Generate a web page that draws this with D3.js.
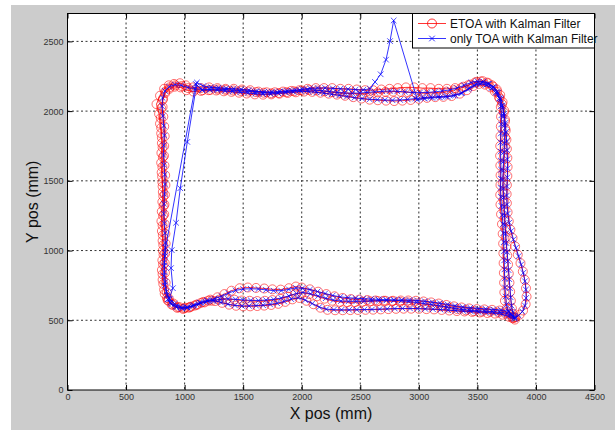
<!DOCTYPE html>
<html><head><meta charset="utf-8">
<script src="https://cdn.jsdelivr.net/npm/d3@7"></script>
<style>body{margin:0;background:#fff}svg{display:block}</style>
</head><body><svg id="c" width="615" height="432"></svg>
<script>
const xTicks=[0,500,1000,1500,2000,2500,3000,3500,4000,4500];
const yTicks=[0,500,1000,1500,2000,2500];
const seriesNames=["ETOA with Kalman Filter","only TOA with Kalman Filter"];
const xLabel="X pos (mm)", yLabel="Y pos (mm)";

const etoaLap1=[[850,660],[825,720],[812,790],[806,860],[810,930],[814,1000],[812,1070],[806,1140],[802,1210],[805,1280],[810,1350],[814,1420],[810,1490],[804,1560],[800,1630],[802,1700],[806,1770],[800,1840],[790,1910],[782,1980],[760,2050],[790,2110],[825,2160],[865,2185],[910,2195],[960,2200],[1010,2185],[1070,2170],[1140,2165],[1210,2170],[1280,2165],[1350,2160],[1420,2160],[1490,2155],[1560,2150],[1630,2140],[1700,2135],[1770,2135],[1840,2140],[1910,2145],[1980,2150],[2050,2160],[2120,2165],[2190,2165],[2260,2165],[2330,2160],[2400,2160],[2470,2155],[2540,2150],[2610,2150],[2680,2155],[2750,2160],[2820,2165],[2890,2170],[2960,2170],[3030,2165],[3100,2165],[3170,2160],[3240,2160],[3310,2165],[3380,2175],[3440,2190],[3495,2210],[3545,2215],[3595,2200],[3635,2175],[3668,2140],[3690,2090],[3700,2030],[3702,1960],[3700,1890],[3697,1820],[3695,1750],[3694,1680],[3696,1610],[3698,1540],[3697,1470],[3695,1400],[3697,1330],[3702,1260],[3710,1190],[3716,1120],[3720,1050],[3722,980],[3724,910],[3726,840],[3728,770],[3730,700],[3735,640],[3750,585],[3775,545],[3805,520],[3740,548],[3680,555],[3610,560],[3540,562],[3470,565],[3400,572],[3330,580],[3260,590],[3190,600],[3120,608],[3050,615],[2980,622],[2910,628],[2840,632],[2770,636],[2700,640],[2630,642],[2560,645],[2490,648],[2420,652],[2350,660],[2280,672],[2210,688],[2140,705],[2070,722],[2000,735],[1950,742],[1890,730],[1820,720],[1750,722],[1680,728],[1610,732],[1540,735],[1470,730],[1400,712],[1340,688],[1280,665],[1220,648],[1160,632],[1100,612],[1045,595],[995,585],[945,592],[900,612],[862,640]];
const etoaLap2=[[830,690],[818,760],[812,830],[816,900],[820,970],[818,1040],[814,1110],[812,1180],[816,1250],[820,1320],[818,1390],[812,1460],[808,1530],[810,1600],[814,1670],[812,1740],[806,1810],[800,1880],[796,1950],[800,2020],[812,2080],[835,2130],[870,2160],[915,2175],[965,2170],[1015,2150],[1075,2140],[1140,2145],[1205,2150],[1270,2148],[1335,2142],[1400,2138],[1465,2132],[1530,2126],[1600,2120],[1670,2118],[1740,2120],[1810,2125],[1880,2130],[1950,2135],[2020,2140],[2090,2138],[2160,2132],[2230,2125],[2300,2118],[2370,2110],[2440,2100],[2510,2090],[2580,2082],[2650,2078],[2720,2075],[2790,2072],[2860,2075],[2930,2080],[3000,2088],[3070,2095],[3140,2100],[3210,2102],[3280,2108],[3350,2125],[3410,2150],[3465,2180],[3515,2195],[3565,2190],[3610,2170],[3650,2140],[3685,2100],[3710,2050],[3725,1990],[3735,1925],[3742,1860],[3748,1795],[3752,1730],[3756,1665],[3758,1600],[3756,1535],[3752,1470],[3750,1405],[3752,1340],[3758,1275],[3768,1210],[3782,1150],[3800,1090],[3822,1030],[3845,970],[3868,910],[3888,850],[3905,790],[3915,730],[3920,670],[3912,615],[3890,570],[3860,540],[3825,522],[3800,515],[3750,560],[3690,570],[3625,575],[3560,578],[3495,580],[3430,585],[3365,592],[3300,600],[3235,610],[3170,620],[3105,628],[3040,635],[2975,640],[2910,642],[2845,642],[2780,640],[2715,640],[2650,638],[2585,636],[2520,633],[2455,630],[2390,630],[2325,632],[2260,640],[2195,655],[2130,672],[2065,688],[2000,698],[1945,690],[1880,670],[1815,655],[1750,645],[1685,640],[1620,638],[1555,640],[1490,642],[1425,648],[1360,652],[1295,648],[1230,640],[1170,628],[1110,612],[1055,598],[1005,590],[955,595],[905,620],[865,655]];
const etoaLap3=[[848,700],[838,770],[832,840],[830,910],[834,980],[838,1050],[836,1120],[830,1190],[826,1260],[828,1330],[832,1400],[836,1470],[834,1540],[828,1610],[824,1680],[826,1750],[830,1820],[826,1890],[818,1960],[812,2030],[816,2090],[835,2140],[870,2170],[920,2185],[975,2180],[1030,2165],[1090,2155],[1155,2150],[1220,2152],[1285,2155],[1350,2152],[1415,2148],[1480,2144],[1545,2140],[1610,2136],[1675,2132],[1740,2128],[1805,2130],[1870,2136],[1935,2142],[2000,2148],[2065,2150],[2130,2148],[2195,2142],[2260,2136],[2325,2130],[2390,2126],[2455,2124],[2520,2126],[2585,2130],[2650,2134],[2715,2138],[2780,2140],[2845,2138],[2910,2134],[2975,2130],[3040,2128],[3105,2130],[3170,2134],[3235,2140],[3300,2150],[3360,2165],[3420,2185],[3480,2205],[3530,2212],[3580,2205],[3625,2185],[3665,2155],[3695,2115],[3715,2065],[3728,2005],[3735,1940],[3738,1875],[3738,1810],[3735,1745],[3730,1680],[3726,1615],[3722,1550],[3720,1485],[3722,1420],[3726,1355],[3730,1290],[3734,1225],[3738,1160],[3742,1095],[3748,1030],[3755,965],[3762,900],[3768,835],[3774,770],[3780,705],[3786,640],[3795,585],[3805,545],[3815,518],[3820,505],[3770,525],[3715,540],[3650,548],[3585,552],[3520,556],[3455,560],[3390,563],[3325,566],[3260,570],[3195,574],[3130,578],[3065,580],[3000,582],[2935,583],[2870,583],[2805,582],[2740,580],[2675,578],[2610,576],[2545,575],[2480,574],[2415,573],[2350,572],[2285,572],[2220,575],[2160,590],[2100,615],[2040,640],[1980,660],[1920,650],[1860,632],[1800,618],[1740,610],[1680,605],[1620,602],[1560,600],[1500,600],[1440,604],[1380,612],[1320,625],[1260,638],[1200,640],[1140,625],[1085,605],[1035,590],[985,582],[935,590],[890,612],[855,645]];

const toaLap1=[[868,655],[900,730],[884,874],[890,1003],[927,1199],[963,1447],[1023,1779],[1105,2205],[1160,2180],[1225,2172],[1290,2168],[1355,2163],[1420,2160],[1485,2156],[1550,2150],[1615,2142],[1680,2138],[1745,2137],[1810,2140],[1875,2145],[1940,2150],[2005,2158],[2070,2163],[2135,2166],[2200,2166],[2265,2163],[2330,2160],[2395,2158],[2460,2154],[2525,2152],[2583,2161],[2626,2209],[2674,2264],[2720,2369],[2754,2502],[2785,2650],[2987,2082],[3050,2090],[3115,2095],[3180,2098],[3245,2102],[3310,2112],[3370,2130],[3430,2165],[3490,2195],[3540,2205],[3590,2195],[3632,2172],[3665,2138],[3688,2092],[3700,2035],[3705,1970],[3704,1905],[3700,1840],[3698,1775],[3698,1710],[3700,1645],[3702,1580],[3700,1515],[3698,1450],[3700,1385],[3705,1320],[3712,1255],[3718,1190],[3722,1125],[3725,1060],[3727,995],[3729,930],[3731,865],[3733,800],[3736,735],[3740,670],[3748,612],[3765,565],[3790,535],[3815,520],[3755,550],[3695,558],[3630,562],[3565,565],[3500,568],[3435,572],[3370,578],[3305,586],[3240,595],[3175,604],[3110,612],[3045,620],[2980,628],[2915,634],[2850,640],[2785,645],[2720,648],[2655,650],[2590,652],[2525,655],[2460,658],[2395,662],[2330,668],[2265,678],[2200,692],[2135,706],[2070,720],[2005,730],[1950,732],[1890,722],[1825,712],[1760,712],[1695,718],[1630,724],[1565,726],[1500,724],[1435,714],[1375,695],[1315,672],[1255,655],[1195,640],[1135,624],[1080,606],[1025,592],[975,588],[925,600],[880,628]];
const toaLap2=[[850,680],[830,750],[822,820],[826,890],[832,960],[838,1020],[1095,2195],[1150,2150],[1215,2152],[1280,2150],[1345,2145],[1410,2140],[1475,2135],[1540,2130],[1605,2125],[1670,2122],[1735,2123],[1800,2128],[1865,2133],[1930,2138],[1995,2142],[2060,2140],[2125,2135],[2190,2128],[2255,2120],[2320,2112],[2385,2104],[2450,2096],[2515,2090],[2580,2085],[2645,2082],[2710,2080],[2775,2078],[2840,2080],[2905,2084],[2970,2090],[3035,2096],[3100,2100],[3165,2104],[3230,2106],[3295,2112],[3360,2128],[3420,2155],[3475,2182],[3525,2195],[3575,2188],[3620,2165],[3658,2132],[3690,2090],[3714,2040],[3728,1980],[3738,1915],[3745,1850],[3750,1785],[3754,1720],[3757,1655],[3758,1590],[3756,1525],[3753,1460],[3752,1395],[3754,1330],[3760,1265],[3772,1200],[3788,1140],[3808,1080],[3830,1020],[3852,960],[3874,900],[3892,840],[3906,780],[3914,720],[3916,660],[3906,605],[3884,562],[3852,535],[3820,520],[3765,565],[3700,574],[3635,578],[3570,582],[3505,585],[3440,590],[3375,596],[3310,604],[3245,614],[3180,623],[3115,630],[3050,637],[2985,642],[2920,645],[2855,646],[2790,645],[2725,643],[2660,641],[2595,639],[2530,637],[2465,636],[2400,636],[2335,638],[2270,645],[2205,658],[2140,674],[2075,690],[2010,700],[1955,692],[1890,675],[1825,660],[1760,650],[1695,645],[1630,642],[1565,643],[1500,646],[1435,650],[1370,654],[1305,650],[1240,642],[1180,630],[1120,615],[1065,600],[1015,592],[965,596],[915,618],[875,650]];
const toaLap3=[[845,705],[835,775],[828,845],[826,915],[830,985],[834,1055],[832,1125],[826,1195],[822,1265],[824,1335],[828,1405],[832,1475],[830,1545],[824,1615],[820,1685],[822,1755],[826,1825],[822,1895],[814,1965],[808,2035],[812,2095],[832,2145],[868,2175],[918,2190],[972,2185],[1028,2170],[1088,2160],[1152,2155],[1216,2156],[1280,2158],[1344,2155],[1408,2151],[1472,2147],[1536,2143],[1600,2139],[1664,2135],[1728,2132],[1792,2133],[1856,2139],[1920,2145],[1984,2150],[2048,2153],[2112,2151],[2176,2146],[2240,2140],[2304,2134],[2368,2130],[2432,2128],[2496,2130],[2560,2134],[2624,2138],[2688,2142],[2752,2144],[2816,2142],[2880,2138],[2944,2134],[3008,2132],[3072,2134],[3136,2138],[3200,2144],[3264,2152],[3326,2165],[3386,2185],[3446,2205],[3500,2215],[3552,2212],[3600,2196],[3642,2170],[3676,2132],[3700,2085],[3716,2028],[3726,1965],[3731,1900],[3733,1835],[3731,1770],[3727,1705],[3723,1640],[3720,1575],[3718,1510],[3720,1445],[3724,1380],[3728,1315],[3732,1250],[3736,1185],[3741,1120],[3747,1055],[3754,990],[3760,925],[3766,860],[3772,795],[3778,730],[3784,665],[3792,605],[3802,560],[3812,528],[3818,510],[3765,530],[3705,545],[3640,552],[3575,556],[3510,560],[3445,563],[3380,566],[3315,569],[3250,573],[3185,577],[3120,580],[3055,582],[2990,584],[2925,585],[2860,585],[2795,584],[2730,582],[2665,580],[2600,578],[2535,577],[2470,576],[2405,575],[2340,575],[2275,576],[2210,580],[2150,595],[2090,620],[2030,645],[1970,662],[1910,652],[1850,635],[1790,622],[1730,614],[1670,608],[1610,605],[1550,603],[1490,603],[1430,607],[1370,615],[1310,628],[1250,640],[1190,642],[1130,628],[1075,608],[1025,592],[978,585],[930,593],[886,615],[855,650]];

const etoa=etoaLap1.concat(etoaLap2,etoaLap3);
const toa=toaLap1.concat(toaLap2,toaLap3);

const svg=d3.select("#c");
const W=615,H=432;
const L=67.5,R=594.5,T=13.5,B=390;
svg.append("rect").attr("x",0).attr("y",0).attr("width",W).attr("height",H).attr("fill","#fff");
svg.append("rect").attr("x",11).attr("y",5).attr("width",W-11).attr("height",425).attr("fill","#cccccc");
svg.append("rect").attr("x",L).attr("y",T).attr("width",R-L).attr("height",B-T).attr("fill","#fff");

const x=d3.scaleLinear().domain([0,4500]).range([L,R]);
const y=d3.scaleLinear().domain([0,2700]).range([B,T]);
const fmt=d3.format("d");

// grid
const g=svg.append("g");
g.selectAll(".gx").data(xTicks.slice(1,-1)).join("line")
 .attr("x1",d=>x(d)).attr("x2",d=>x(d)).attr("y1",T).attr("y2",B)
 .attr("stroke","#333").attr("stroke-width",1).attr("stroke-dasharray","2,2.5");
g.selectAll(".gy").data(yTicks.slice(1)).join("line")
 .attr("y1",d=>y(d)).attr("y2",d=>y(d)).attr("x1",L).attr("x2",R)
 .attr("stroke","#333").attr("stroke-width",1).attr("stroke-dasharray","2,2.5");

// axes
const fontT="'Liberation Sans', Arial, sans-serif";
svg.append("g").attr("transform",`translate(0,${B})`)
 .call(d3.axisBottom(x).tickValues(xTicks).tickFormat(fmt).tickSize(-5).tickPadding(4).tickSizeOuter(0));
svg.append("g").attr("transform",`translate(${L},0)`)
 .call(d3.axisLeft(y).tickValues(yTicks).tickFormat(fmt).tickSize(-5).tickPadding(4).tickSizeOuter(0));
svg.append("g").attr("transform",`translate(0,${T})`)
 .call(d3.axisTop(x).tickValues(xTicks).tickSize(-5).tickFormat("").tickSizeOuter(0));
svg.append("g").attr("transform",`translate(${R},0)`)
 .call(d3.axisRight(y).tickValues(yTicks).tickSize(-5).tickFormat("").tickSizeOuter(0));
svg.selectAll(".domain").remove();
svg.selectAll(".tick line").attr("stroke","#000");
svg.selectAll(".tick text").attr("font-family",fontT).attr("font-size",9).attr("fill","#333");

// data
const lineGen=d3.line().x(d=>x(d[0])).y(d=>y(d[1]));
const plot=svg.append("g");
plot.append("path").datum(etoa).attr("d",lineGen).attr("fill","none").attr("stroke","#ff0000").attr("stroke-width",0.8);
plot.selectAll(".ci").data(etoa).join("circle")
 .attr("cx",d=>x(d[0])).attr("cy",d=>y(d[1])).attr("r",4.5)
 .attr("fill","none").attr("stroke","#ff0000").attr("stroke-width",0.7).attr("stroke-opacity",0.8);
plot.append("path").datum(toa).attr("d",lineGen).attr("fill","none").attr("stroke","#0000ff").attr("stroke-width",0.8);
const s=2.8;
plot.selectAll(".xm").data(toa).join("path")
 .attr("d",d=>{const cx=x(d[0]),cy=y(d[1]);return `M${cx-s},${cy-s}L${cx+s},${cy+s}M${cx-s},${cy+s}L${cx+s},${cy-s}`;})
 .attr("stroke","#0000ff").attr("stroke-width",0.7).attr("fill","none");

// box
svg.append("rect").attr("x",L).attr("y",T).attr("width",R-L).attr("height",B-T).attr("fill","none").attr("stroke","#000").attr("stroke-width",1);

// labels
svg.append("text").attr("x",(L+R)/2).attr("y",419).attr("text-anchor","middle")
 .attr("font-family",fontT).attr("font-size",16).attr("fill","#111").text(xLabel);
svg.append("text").attr("transform",`translate(38,${(T+B)/2}) rotate(-90)`).attr("text-anchor","middle")
 .attr("font-family",fontT).attr("font-size",16).attr("fill","#111").text(yLabel);

// legend
const lg=svg.append("g");
lg.append("rect").attr("x",412.5).attr("y",T).attr("width",R-412.5).attr("height",34.5).attr("fill","#fff").attr("stroke","#000").attr("stroke-width",1);
const rows=[{c:"#ff0000",m:"o",yy:23.5},{c:"#0000ff",m:"x",yy:38.5}];
rows.forEach((r,i)=>{
  lg.append("line").attr("x1",418).attr("x2",446).attr("y1",r.yy).attr("y2",r.yy).attr("stroke",r.c).attr("stroke-width",0.8);
  if(r.m==="o") lg.append("circle").attr("cx",432).attr("cy",r.yy).attr("r",4.5).attr("fill","none").attr("stroke",r.c).attr("stroke-width",0.8);
  else lg.append("path").attr("d",`M${432-s},${r.yy-s}L${432+s},${r.yy+s}M${432-s},${r.yy+s}L${432+s},${r.yy-s}`).attr("stroke",r.c).attr("stroke-width",0.8);
  lg.append("text").attr("x",450).attr("y",r.yy+4).attr("font-family",fontT).attr("font-size",12).attr("fill","#111").text(seriesNames[i]);
});
</script></body></html>
